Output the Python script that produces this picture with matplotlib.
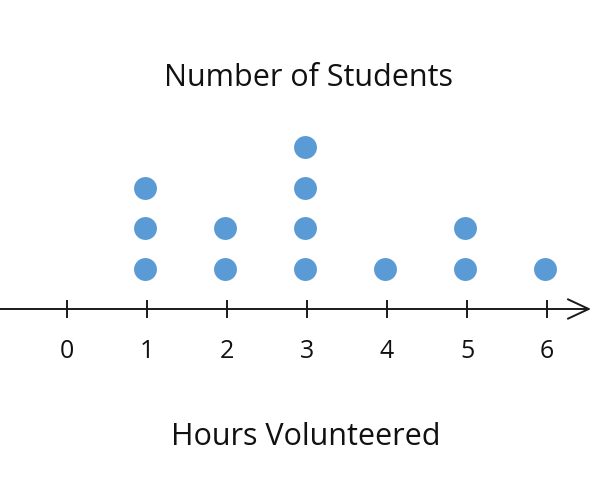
import matplotlib
matplotlib.use("Agg")
import matplotlib.pyplot as plt

hours = [0, 1, 2, 3, 4, 5, 6]
students = [0, 3, 2, 4, 1, 2, 1]
tick_labels = ["0", "1", "2", "3", "4", "5", "6"]
title = "Number of Students"
xlabel = "Hours Volunteered"

plt.rcParams['font.family'] = ['Open Sans', 'DejaVu Sans']

fig = plt.figure(figsize=(6, 4.94), dpi=100)
ax = fig.add_axes([0, 0, 1, 1])
ax.set_xlim(-67 / 80, (600 - 67) / 80)
ax.set_ylim(-185 / 40.5, 309 / 40.5)
ax.axis("off")

# number line with open arrow head
ax.annotate("", xy=(6.55, 0), xytext=(-0.85, 0),
            arrowprops=dict(arrowstyle="->,head_length=1.5,head_width=0.7",
                            color="#1a1a1a", lw=1.4, shrinkA=0, shrinkB=0))
for h, lab in zip(hours, tick_labels):
    ax.plot([h, h], [-0.2, 0.2], color="#1a1a1a", lw=1.4)
    ax.text(h, -1.05, lab, ha="center", va="center", fontsize=18, color="#111111")

# stacked dots
for h, n in zip(hours, students):
    for k in range(1, n + 1):
        ax.plot(h - 0.03, k, "o", ms=16.5, color="#5B9BD5", mec="none")

ax.text(3.02, 5.7, title, ha="center", va="center", fontsize=22, color="#111111")
ax.text(2.98, -3.15, xlabel, ha="center", va="center", fontsize=22, color="#111111")

fig.savefig("out.png", dpi=100)
